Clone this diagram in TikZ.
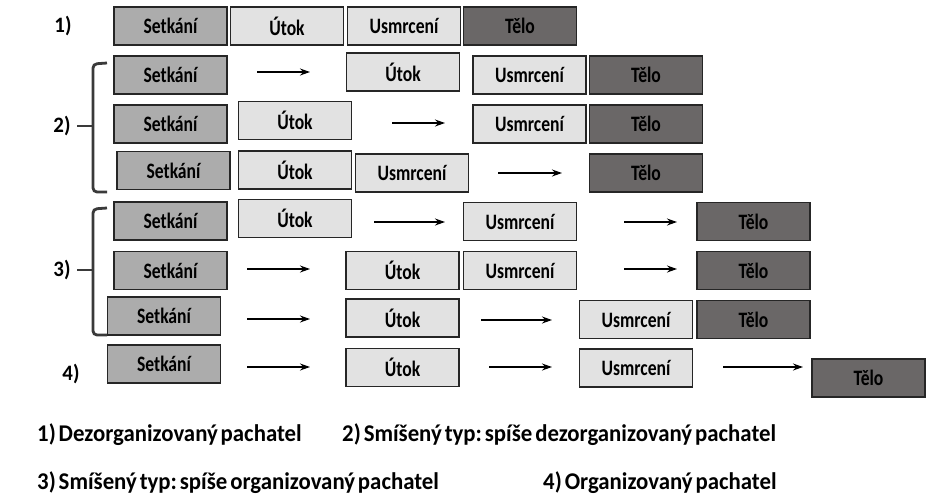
\documentclass[tikz,border=0pt]{standalone}
\usepackage{fontspec}
\setmainfont{Carlito}
\newfontfamily\boxfont[FakeStretch=0.8]{Carlito}
\newfontfamily\legfont[FakeStretch=0.95]{Carlito}
\usetikzlibrary{arrows.meta}
\definecolor{boxline}{HTML}{262626}
\definecolor{setkfill}{HTML}{ACACAC}
\definecolor{midfill}{HTML}{E2E2E2}
\definecolor{telofill}{HTML}{6A6767}
\definecolor{brackcol}{HTML}{3A3A3A}
\frenchspacing
\newcommand\mylegsp{\spaceskip=0.12em plus 0.02em\relax}
\begin{document}
\begin{tikzpicture}[x=1pt,y=-1pt,
  box/.style={draw=boxline, line width=1.6pt, minimum width=113pt, minimum height=38pt,
    inner sep=0pt, text=black, font=\boxfont\bfseries\fontsize{22}{26}\selectfont},
  setk/.style={box, fill=setkfill},
  midb/.style={box, fill=midfill},
  telo/.style={box, fill=telofill},
  arr/.style={-{Stealth[length=10pt,width=7pt]}, line width=1.4pt, draw=black},
  brk/.style={line width=2.8pt, draw=brackcol, rounded corners=4pt},
  lbl/.style={inner sep=0pt, font=\legfont\bfseries\fontsize{22}{26}\selectfont},
  legend/.style={anchor=west, inner sep=0pt,
    font=\legfont\bfseries\fontsize{24}{28}\selectfont\mylegsp}
]
\useasboundingbox[fill=white] (0,0) rectangle (945,501);

% ---------- row labels ----------
\node[lbl] (l1) at (63,26) {1)};
\node[lbl] (l2) at (62,126) {2)};
\node[lbl] (l3) at (62,270) {3)};
\node[lbl] (l4) at (71,374) {4)};

% ---------- brackets ----------
\draw[brk] (107,63) -- (93,64) -- (93,192) -- (107,192);
\draw[brk, rounded corners=0pt] (77,126) -- (93,126);
\draw[brk] (107,208) -- (93,209) -- (93,335) -- (107,335);
\draw[brk, rounded corners=0pt] (77,270) -- (93,270);

% ---------- row 1 ----------
\node[setk] (s1) at (170.5,26) {Setkání};
\node[midb] (u1) at (287,26) {Útok};
\node[midb] (m1) at (404,26) {Usmrcení};
\node[telo] (t1) at (520,26) {Tělo};

% ---------- row 2a ----------
\node[setk] (s2a) at (170.5,75) {Setkání};
\node[midb] (u2a) at (403,72) {Útok};
\node[midb] (m2a) at (529.5,75) {Usmrcení};
\node[telo] (t2a) at (646,75) {Tělo};
\coordinate (a1s) at (257,72); \coordinate (a1e) at (310,72);
\draw[arr] (a1s) -- (a1e);

% ---------- row 2b ----------
\node[setk] (s2b) at (170.5,124) {Setkání};
\node[midb] (u2b) at (295,120.5) {Útok};
\node[midb] (m2b) at (529.5,124) {Usmrcení};
\node[telo] (t2b) at (646,124) {Tělo};
\coordinate (a2s) at (392,123); \coordinate (a2e) at (445,123);
\draw[arr] (a2s) -- (a2e);

% ---------- row 2c ----------
\node[setk] (s2c) at (173.5,170.5) {Setkání};
\node[midb] (u2c) at (295,170) {Útok};
\node[midb] (m2c) at (412,173) {Usmrcení};
\node[telo] (t2c) at (646,173) {Tělo};
\coordinate (a3s) at (498,173); \coordinate (a3e) at (562,173);
\draw[arr] (a3s) -- (a3e);

% ---------- row 3a ----------
\node[setk] (s3a) at (170.5,221) {Setkání};
\node[midb] (u3a) at (295,218.5) {Útok};
\node[midb] (m3a) at (520,221.5) {Usmrcení};
\node[telo] (t3a) at (753.5,221.5) {Tělo};
\coordinate (a4s) at (374,222); \coordinate (a4e) at (445,222);
\draw[arr] (a4s) -- (a4e);
\coordinate (a5s) at (624,222); \coordinate (a5e) at (677,222);
\draw[arr] (a5s) -- (a5e);

% ---------- row 3b ----------
\node[setk] (s3b) at (170.5,270.5) {Setkání};
\node[midb] (u3b) at (402.5,270.5) {Útok};
\node[midb] (m3b) at (520,270.5) {Usmrcení};
\node[telo] (t3b) at (753.5,270.5) {Tělo};
\coordinate (a6s) at (247,269); \coordinate (a6e) at (310,269);
\draw[arr] (a6s) -- (a6e);
\coordinate (a7s) at (624,269); \coordinate (a7e) at (677,269);
\draw[arr] (a7s) -- (a7e);

% ---------- row 3c ----------
\node[setk] (s3c) at (164,316) {Setkání};
\node[midb] (u3c) at (402.5,318) {Útok};
\node[midb] (m3c) at (636,319.5) {Usmrcení};
\node[telo] (t3c) at (753.5,319.5) {Tělo};
\coordinate (a8s) at (247,319); \coordinate (a8e) at (310,319);
\draw[arr] (a8s) -- (a8e);
\coordinate (a9s) at (481,320); \coordinate (a9e) at (552,320);
\draw[arr] (a9s) -- (a9e);

% ---------- row 4 ----------
\node[setk] (s4) at (164,364) {Setkání};
\node[midb] (u4) at (402.5,367.5) {Útok};
\node[midb] (m4) at (636,368) {Usmrcení};
\node[telo] (t4) at (868.5,378) {Tělo};
\coordinate (a10s) at (247,367); \coordinate (a10e) at (310,367);
\draw[arr] (a10s) -- (a10e);
\coordinate (a11s) at (489,367); \coordinate (a11e) at (552,367);
\draw[arr] (a11s) -- (a11e);
\coordinate (a12s) at (723,367); \coordinate (a12e) at (803,367);
\draw[arr] (a12s) -- (a12e);

% ---------- legend ----------
\node[legend] (g1) at (37,435) {1) Dezorganizovaný pachatel};
\node[legend] (g2) at (342,435) {2) Smíšený typ: spíše dezorganizovaný pachatel};
\node[legend] (g3) at (37,483) {3) Smíšený typ: spíše organizovaný pachatel};
\node[legend] (g4) at (543,483) {4) Organizovaný pachatel};
\end{tikzpicture}
\end{document}
